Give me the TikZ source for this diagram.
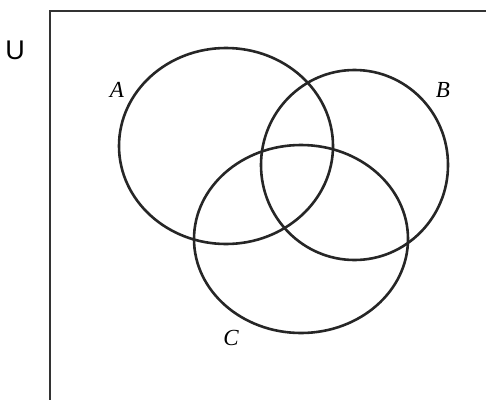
\documentclass[tikz,border=0pt]{standalone}
\usepackage{fontspec}
\usetikzlibrary{shapes.geometric}
\setmainfont{Liberation Serif}
\newfontfamily\labelsans{Liberation Sans}
\begin{document}
\begin{tikzpicture}[x=1pt,y=-1pt,
  setline/.style={line width=2.6pt, draw=black!85},
  setlabel/.style={font=\fontsize{23}{23}\selectfont\itshape, inner sep=0pt}]
\useasboundingbox (0,0) rectangle (486,399);
\draw[line width=2.2pt, draw=black!80] (50,402) -- (50,11) -- (490,11);
\node[font=\labelsans\fontsize{27}{27}\selectfont, inner sep=0pt] (U) at (15,50) {U};
\node[setline, ellipse, draw, minimum width=214pt, minimum height=196pt, inner sep=0pt] (A) at (226,146) {};
\node[setline, ellipse, draw, minimum width=187pt, minimum height=190pt, inner sep=0pt] (B) at (354.5,165) {};
\node[setline, ellipse, draw, minimum width=214pt, minimum height=188pt, inner sep=0pt] (C) at (301,239) {};
\node[setlabel] (la) at (117,90) {A};
\node[setlabel] (lb) at (443,90) {B};
\node[setlabel] (lc) at (231,338) {C};
\end{tikzpicture}
\end{document}
